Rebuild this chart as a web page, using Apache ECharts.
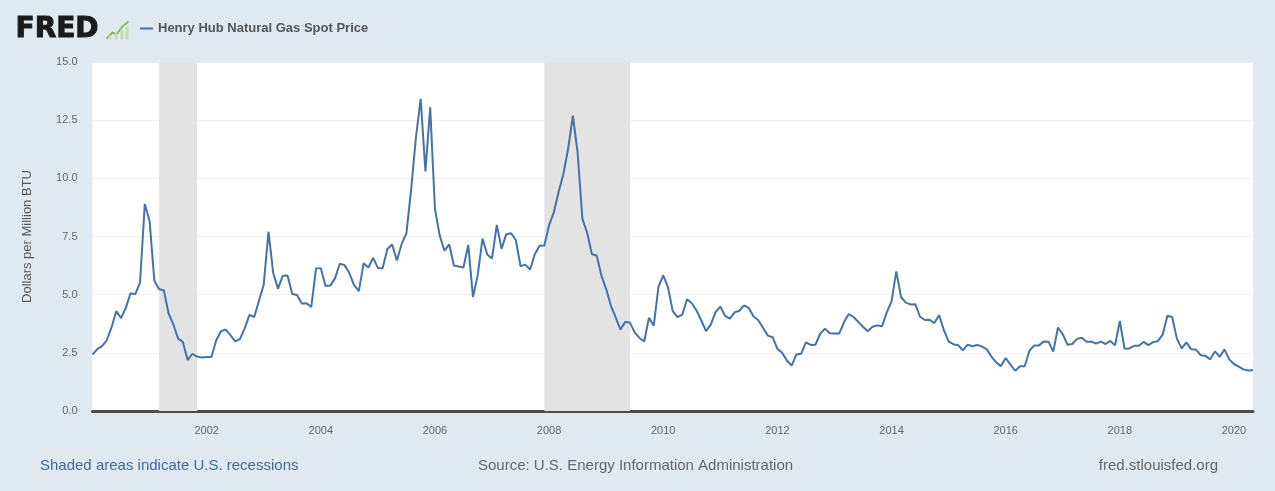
<!DOCTYPE html>
<html>
<head>
<meta charset="utf-8">
<script src="https://cdn.jsdelivr.net/npm/echarts@6/dist/echarts.min.js"></script>
<style>
html,body{margin:0;padding:0;background:#e1e9f0;}
#chart{width:1275px;height:491px;}
</style>
</head>
<body>
<div id="chart"></div>
<script>
// Henry Hub Natural Gas Spot Price, monthly, Jan 2000 - May 2020 (Dollars per Million BTU)
const startYear = 2000;
const prices = [
  2.42, 2.66, 2.79, 3.04, 3.59, 4.29, 3.99, 4.43, 5.06, 5.02, 5.52, 8.90,   // 2000
  8.17, 5.61, 5.23, 5.19, 4.19, 3.72, 3.11, 2.97, 2.19, 2.46, 2.34, 2.30,   // 2001
  2.32, 2.32, 3.03, 3.43, 3.50, 3.26, 2.99, 3.09, 3.55, 4.13, 4.04, 4.74,   // 2002
  5.43, 7.71, 5.93, 5.26, 5.81, 5.82, 5.03, 4.99, 4.62, 4.63, 4.47, 6.13,   // 2003
  6.14, 5.37, 5.39, 5.71, 6.33, 6.27, 5.93, 5.41, 5.15, 6.35, 6.17, 6.58,   // 2004
  6.15, 6.14, 6.96, 7.16, 6.47, 7.18, 7.63, 9.53, 11.75, 13.42, 10.30, 13.05, // 2005
  8.69, 7.54, 6.89, 7.16, 6.25, 6.21, 6.17, 7.14, 4.90, 5.85, 7.41, 6.73,   // 2006
  6.55, 8.00, 6.97, 7.60, 7.64, 7.35, 6.22, 6.29, 6.08, 6.74, 7.10, 7.11,   // 2007
  7.99, 8.54, 9.41, 10.18, 11.27, 12.69, 11.09, 8.26, 7.67, 6.74, 6.68, 5.82, // 2008
  5.24, 4.52, 4.02, 3.50, 3.83, 3.80, 3.38, 3.14, 2.99, 4.01, 3.66, 5.35,   // 2009
  5.83, 5.32, 4.29, 4.03, 4.14, 4.80, 4.63, 4.32, 3.89, 3.43, 3.71, 4.25,   // 2010
  4.49, 4.09, 3.97, 4.24, 4.31, 4.54, 4.42, 4.06, 3.90, 3.57, 3.24, 3.17,   // 2011
  2.67, 2.50, 2.17, 1.95, 2.43, 2.46, 2.95, 2.84, 2.85, 3.32, 3.54, 3.34,   // 2012
  3.33, 3.33, 3.81, 4.17, 4.04, 3.83, 3.62, 3.43, 3.62, 3.68, 3.64, 4.24,   // 2013
  4.71, 6.00, 4.90, 4.66, 4.58, 4.59, 4.05, 3.91, 3.92, 3.78, 4.12, 3.48,   // 2014
  2.99, 2.87, 2.83, 2.61, 2.85, 2.78, 2.84, 2.77, 2.66, 2.34, 2.09, 1.93,   // 2015
  2.28, 1.99, 1.73, 1.92, 1.92, 2.59, 2.82, 2.82, 2.99, 2.98, 2.55, 3.59,   // 2016
  3.30, 2.85, 2.88, 3.10, 3.15, 2.98, 2.98, 2.90, 2.98, 2.88, 3.01, 2.82,   // 2017
  3.87, 2.67, 2.69, 2.80, 2.80, 2.97, 2.83, 2.96, 3.00, 3.28, 4.09, 4.04,   // 2018
  3.11, 2.69, 2.95, 2.65, 2.64, 2.40, 2.37, 2.22, 2.56, 2.33, 2.65, 2.22,   // 2019
  2.02, 1.91, 1.79, 1.74, 1.75                                              // 2020
];
const recessions = [['2001-03', '2001-11'], ['2007-12', '2009-06']];
const xTickYears = [2002, 2004, 2006, 2008, 2010, 2012, 2014, 2016, 2018, 2020];
const yTicks = [0, 2.5, 5.0, 7.5, 10.0, 12.5, 15.0];
const seriesName = 'Henry Hub Natural Gas Spot Price';
const yAxisTitle = 'Dollars per Million BTU';

// month categories derived from the start year and the number of values
const months = prices.map((_, i) => {
  const y = startYear + Math.floor(i / 12);
  const m = (i % 12) + 1;
  return y + '-' + (m < 10 ? '0' + m : m);
});

const FONT = 'Liberation Sans, Arial, sans-serif';
const chart = echarts.init(document.getElementById('chart'));
chart.setOption({
  backgroundColor: '#e1e9f0',
  animation: false,
  grid: {
    left: 92.5, right: 22, top: 62, bottom: 80,
    show: true, backgroundColor: '#ffffff', borderWidth: 0
  },
  legend: {
    show: true,
    left: 135, top: 17,
    itemWidth: 13, itemHeight: 2, icon: 'rect', itemGap: 6,
    textStyle: { fontFamily: FONT, fontSize: 13, fontWeight: 'bold', color: '#555' },
    data: [seriesName]
  },
  xAxis: {
    type: 'category',
    data: months,
    boundaryGap: false,
    axisLine: { show: true, lineStyle: { color: '#4d4d4d', width: 3 } },
    axisTick: { show: false },
    splitLine: { show: false },
    axisLabel: {
      interval: (idx, val) => val.endsWith('-01') && xTickYears.indexOf(+val.slice(0, 4)) >= 0,
      formatter: v => v.slice(0, 4),
      color: '#666', fontSize: 11, margin: 14,
      fontFamily: FONT
    }
  },
  yAxis: {
    type: 'value',
    min: yTicks[0], max: yTicks[yTicks.length - 1], interval: 2.5,
    name: yAxisTitle,
    nameLocation: 'middle', nameGap: 59,
    nameTextStyle: { color: '#595959', fontSize: 13, fontFamily: FONT },
    axisLine: { show: false },
    axisTick: { show: false },
    splitLine: { lineStyle: { color: '#efefef', width: 1 } },
    axisLabel: {
      formatter: v => v.toFixed(1),
      color: '#666', fontSize: 11, margin: 15,
      fontFamily: FONT
    }
  },
  series: [
    {
      name: 'recessions',
      type: 'line',
      data: [],
      silent: true,
      markArea: {
        silent: true,
        itemStyle: { color: '#e3e3e3', opacity: 1 },
        data: recessions.map(r => [{ xAxis: r[0] }, { xAxis: r[1] }])
      }
    },
    {
      name: seriesName,
      type: 'line',
      data: prices,
      showSymbol: false,
      symbol: 'none',
      lineStyle: { color: '#4572a7', width: 2 },
      itemStyle: { color: '#4572a7' },
      z: 5
    }
  ],
  graphic: [
    {
      type: 'text', left: 15, top: 15,
      style: { text: 'FRED', fontFamily: 'DejaVu Sans, sans-serif', fontWeight: 'bold', fontSize: 28, fill: '#1a1a1a', stroke: '#1a1a1a', lineWidth: 1 }
    },
    {
      type: 'group', left: 104, top: 19,
      children: [
        { type: 'polyline', shape: { points: [[0, 18], [6, 12], [10, 14], [16, 6], [22, 1]] }, style: { stroke: '#8ab86a', lineWidth: 2, fill: null } },
        { type: 'rect', shape: { x: 2, y: 15, width: 3, height: 4 }, style: { fill: '#c7dcb4' } },
        { type: 'rect', shape: { x: 8, y: 13, width: 3, height: 6 }, style: { fill: '#c7dcb4' } },
        { type: 'rect', shape: { x: 14, y: 10, width: 3, height: 9 }, style: { fill: '#c7dcb4' } },
        { type: 'rect', shape: { x: 19, y: 6, width: 3, height: 13 }, style: { fill: '#c7dcb4' } }
      ]
    },
    {
      type: 'text', left: 40, top: 458,
      style: { text: 'Shaded areas indicate U.S. recessions', fontFamily: FONT, fontSize: 15, fill: '#3f6aa1' }
    },
    {
      type: 'text', left: 478, top: 458,
      style: { text: 'Source: U.S. Energy Information Administration', fontFamily: FONT, fontSize: 15, fill: '#666' }
    },
    {
      type: 'text', right: 57, top: 458,
      style: { text: 'fred.stlouisfed.org', fontFamily: FONT, fontSize: 15, fill: '#666' }
    }
  ]
});
</script>
</body>
</html>
